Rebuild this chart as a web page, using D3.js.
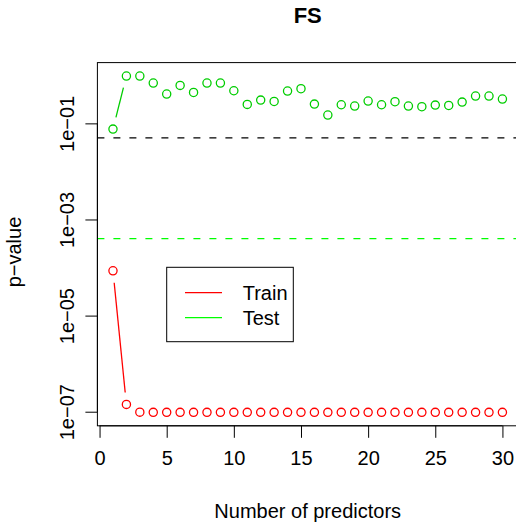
<!DOCTYPE html>
<html>
<head>
<meta charset="utf-8">
<script src="https://cdn.jsdelivr.net/npm/d3@7"></script>
<style>
  html, body { margin: 0; padding: 0; background: #fff; }
  svg { display: block; }
  text { font-family: "Liberation Sans", Arial, Helvetica, sans-serif; }
</style>
</head>
<body>
<svg id="chart" width="516" height="523"></svg>
<script>
// ---- data ----
const predictors = d3.range(1, 31);
const trainP = [8.55e-5, 1.42e-7, 9.8e-8, 9.7e-8, 9.7e-8, 9.7e-8, 9.7e-8, 9.7e-8, 9.7e-8, 9.7e-8,
                9.7e-8, 9.7e-8, 9.7e-8, 9.7e-8, 9.7e-8, 9.7e-8, 9.7e-8, 9.7e-8, 9.7e-8, 9.7e-8,
                9.7e-8, 9.7e-8, 9.7e-8, 9.7e-8, 9.7e-8, 9.7e-8, 9.7e-8, 9.7e-8, 9.7e-8, 9.7e-8];
const testP = [0.076, 0.965, 0.965, 0.69, 0.407, 0.617, 0.44, 0.69, 0.69, 0.477,
               0.248, 0.305, 0.286, 0.47, 0.526, 0.252, 0.149, 0.244, 0.229, 0.291,
               0.244, 0.282, 0.229, 0.222, 0.240, 0.236, 0.277, 0.370, 0.370, 0.321];
const thresholdBlack = 0.05;
const thresholdGreen = 0.0004;
const xTicks = [0, 5, 10, 15, 20, 25, 30];
const yTicks = [1e-1, 1e-3, 1e-5, 1e-7];
const yTickLabels = ["1e\u221201", "1e\u221203", "1e\u221205", "1e\u221207"];
const legendLabels = ["Train", "Test"];
const titleText = "FS";
const xLabel = "Number of predictors";
const yLabel = "p\u2212value";

// ---- layout ----
const plot = { left: 97.4, right: 518, top: 62.6, bottom: 425.8 };
const RED = "#FF0000", GREEN_PT = "#00CD00", GREEN = "#00FF00";

const svg = d3.select("#chart");

// R-style 4% extension of data range
const xExt = d3.extent(predictors);
const xPad = (xExt[1] - xExt[0]) * 0.04;
const x = d3.scaleLinear().domain([xExt[0] - xPad, xExt[1] + xPad]).range([plot.left, plot.right]);

const allLog = trainP.concat(testP).map(v => Math.log10(v));
const lMin = d3.min(allLog), lMax = d3.max(allLog);
const lPad = (lMax - lMin) * 0.04;
const y = d3.scaleLog().domain([Math.pow(10, lMin - lPad), Math.pow(10, lMax + lPad)]).range([plot.bottom, plot.top]);

// clip
svg.append("clipPath").attr("id", "clip").append("rect")
  .attr("x", plot.left).attr("y", plot.top)
  .attr("width", plot.right - plot.left).attr("height", plot.bottom - plot.top);

const g = svg.append("g").attr("clip-path", "url(#clip)");

// threshold lines
g.append("line").attr("x1", plot.left).attr("x2", plot.right)
  .attr("y1", y(thresholdBlack)).attr("y2", y(thresholdBlack))
  .attr("stroke", "#000").attr("stroke-width", 1.1).attr("stroke-dasharray", "7,9");
g.append("line").attr("x1", plot.left).attr("x2", plot.right)
  .attr("y1", y(thresholdGreen)).attr("y2", y(thresholdGreen))
  .attr("stroke", GREEN).attr("stroke-width", 1.1).attr("stroke-dasharray", "7,9");

// type "b" series: points plus gapped segments
const GAP = 12;
function drawSeries(vals, col) {
  const pts = vals.map((v, i) => [x(predictors[i]), y(v)]);
  for (let i = 0; i < pts.length - 1; i++) {
    const [x0, y0] = pts[i], [x1, y1] = pts[i + 1];
    const dx = x1 - x0, dy = y1 - y0, d = Math.hypot(dx, dy);
    if (d > 2 * GAP) {
      const ux = dx / d, uy = dy / d;
      g.append("line")
        .attr("x1", x0 + ux * GAP).attr("y1", y0 + uy * GAP)
        .attr("x2", x1 - ux * GAP).attr("y2", y1 - uy * GAP)
        .attr("stroke", col).attr("stroke-width", 1.3);
    }
  }
  g.selectAll(null).data(pts).enter().append("circle")
    .attr("cx", d => d[0]).attr("cy", d => d[1]).attr("r", 4.1)
    .attr("fill", "none").attr("stroke", col).attr("stroke-width", 1.3);
}
drawSeries(testP, GREEN_PT);
drawSeries(trainP, RED);

// box
svg.append("rect").attr("x", plot.left).attr("y", plot.top)
  .attr("width", plot.right - plot.left).attr("height", plot.bottom - plot.top)
  .attr("fill", "none").attr("stroke", "#000").attr("stroke-width", 1);

// x axis
const xAxisG = svg.append("g").attr("transform", `translate(0,${plot.bottom})`)
  .call(d3.axisBottom(x).tickValues(xTicks).tickSize(12).tickSizeOuter(0).tickFormat(d3.format("d")));
xAxisG.select(".domain").attr("d", `M${x(xTicks[0])},0H${x(xTicks[xTicks.length - 1])}`).attr("stroke", "#000");
xAxisG.selectAll(".tick line").attr("stroke", "#000");
xAxisG.selectAll(".tick text").attr("y", 39.5).attr("dy", null)
  .attr("font-size", 20).attr("fill", "#000").attr("font-family", null);

// y axis
const yAxisG = svg.append("g").attr("transform", `translate(${plot.left},0)`)
  .call(d3.axisLeft(y).tickValues(yTicks).tickSize(12).tickSizeOuter(0)
    .tickFormat((d, i) => yTickLabels[i]));
yAxisG.select(".domain").attr("d", `M0,${y(yTicks[yTicks.length - 1])}V${y(yTicks[0])}`).attr("stroke", "#000");
yAxisG.selectAll(".tick line").attr("stroke", "#000");
yAxisG.selectAll(".tick text")
  .attr("x", null).attr("dy", null).attr("y", null)
  .attr("transform", "translate(-23.4,0) rotate(-90)")
  .attr("text-anchor", "middle")
  .attr("font-size", 20).attr("fill", "#000").attr("font-family", null);

// title and axis labels
const cx = (plot.left + plot.right) / 2;
svg.append("text").attr("x", cx).attr("y", 23).attr("text-anchor", "middle")
  .attr("font-size", 22).attr("font-weight", "bold").text(titleText);
svg.append("text").attr("x", cx).attr("y", 518).attr("text-anchor", "middle")
  .attr("font-size", 20).text(xLabel);
svg.append("text").attr("transform", `translate(21,252) rotate(-90)`)
  .attr("text-anchor", "middle").attr("font-size", 20).text(yLabel);

// legend
const leg = svg.append("g");
leg.append("rect").attr("x", 166.7).attr("y", 267.3).attr("width", 126.6).attr("height", 74.4)
  .attr("fill", "#fff").attr("stroke", "#000").attr("stroke-width", 1);
[RED, GREEN].forEach((c, i) => {
  const ly = 292.7 + i * 25;
  leg.append("line").attr("x1", 185).attr("x2", 222).attr("y1", ly).attr("y2", ly)
    .attr("stroke", c).attr("stroke-width", 1.3);
  leg.append("text").attr("x", 242.7).attr("y", ly + 7.2).attr("font-size", 20).text(legendLabels[i]);
});
</script>
</body>
</html>
